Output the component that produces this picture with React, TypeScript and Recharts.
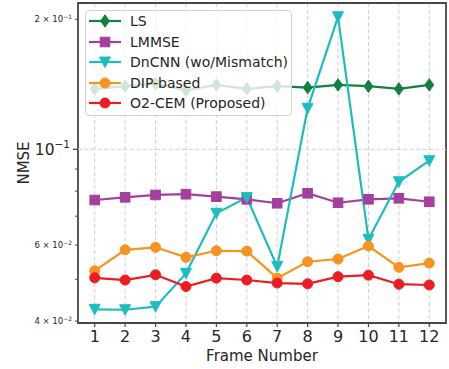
import React from 'react';
import { LineChart, Line, XAxis, YAxis, CartesianGrid, ReferenceLine, ReferenceArea, Legend } from 'recharts';

const frames = [1, 2, 3, 4, 5, 6, 7, 8, 9, 10, 11, 12];
const lsValues = [0.138, 0.140, 0.142, 0.137, 0.141, 0.138, 0.140, 0.139, 0.141, 0.140, 0.138, 0.141];
const lmmseValues = [0.0763, 0.0774, 0.0784, 0.0787, 0.0777, 0.0766, 0.0750, 0.0791, 0.0752, 0.0766, 0.0770, 0.0756];
const dncnnValues = [0.0426, 0.0425, 0.0432, 0.0516, 0.0711, 0.0773, 0.0535, 0.1244, 0.2027, 0.0619, 0.0841, 0.0941];
const dipValues = [0.0523, 0.0585, 0.0593, 0.0562, 0.0582, 0.0581, 0.0503, 0.0549, 0.0557, 0.0597, 0.0533, 0.0545];
const o2Values = [0.0504, 0.0498, 0.0512, 0.0481, 0.0503, 0.0498, 0.0490, 0.0488, 0.0507, 0.0511, 0.0487, 0.0485];

const yTicks = [0.04, 0.05, 0.06, 0.07, 0.08, 0.09, 0.1, 0.2];
const yTickLabels: Record<string, [string, string]> = {
  '0.04': ['4 × 10', '−2'],
  '0.06': ['6 × 10', '−2'],
  '0.1': ['10', '−1'],
  '0.2': ['2 × 10', '−1'],
};

const FONT = '"DejaVu Sans", sans-serif';
const TEXT = '#262626';
const SPINE = '#474747';

const series = [
  { key: 'ls', name: 'LS', color: '#12803f', shape: 'diamond', values: lsValues },
  { key: 'lmmse', name: 'LMMSE', color: '#a3409d', shape: 'square', values: lmmseValues },
  { key: 'dncnn', name: 'DnCNN (wo/Mismatch)', color: '#1dbdbf', shape: 'tri', values: dncnnValues },
  { key: 'dip', name: 'DIP-based', color: '#f7931e', shape: 'circle', values: dipValues },
  { key: 'o2', name: 'O2-CEM (Proposed)', color: '#ed1c24', shape: 'circle', values: o2Values },
];

const data = frames.map((f, i) => {
  const row: any = { frame: f };
  series.forEach((s) => { row[s.key] = s.values[i]; });
  return row;
});

function Marker({ cx, cy, shape, color }: any) {
  if (cx == null || cy == null) return null;
  if (shape === 'diamond') {
    return <polygon points={`${cx},${cy - 6.2} ${cx + 4.4},${cy} ${cx},${cy + 6.2} ${cx - 4.4},${cy}`} fill={color} stroke={color} strokeWidth={1} />;
  }
  if (shape === 'square') {
    return <rect x={cx - 4.8} y={cy - 4.8} width={9.6} height={9.6} fill={color} stroke={color} strokeWidth={1} />;
  }
  if (shape === 'tri') {
    return <polygon points={`${cx - 5.5},${cy - 5} ${cx + 5.5},${cy - 5} ${cx},${cy + 5.5}`} fill={color} stroke={color} strokeWidth={1} strokeLinejoin="miter" />;
  }
  return <circle cx={cx} cy={cy} r={5} fill={color} stroke={color} strokeWidth={1} />;
}

function YTick(props: any) {
  const { x, y, payload } = props;
  const v = payload.value;
  const major = Math.abs(v - 0.1) < 1e-9;
  const lab = yTickLabels[String(v)];
  return (
    <g>
      <line x1={x - (major ? 5 : 3)} x2={x} y1={y} y2={y} stroke={SPINE} strokeWidth={major ? 1.3 : 1} />
      {lab && major && (
        <text x={x - 8} y={y + 5.5} textAnchor="end" fontFamily={FONT} fill={TEXT} fontSize={15.5}>
          <tspan>{lab[0]}</tspan>
          <tspan dy={-6.5} fontSize={10.5}>{lab[1]}</tspan>
        </text>
      )}
      {lab && !major && (
        <text x={x - 6} y={y + 3} textAnchor="end" fontFamily={FONT} fill={TEXT} fontSize={8.5}>
          <tspan>{lab[0]}</tspan>
          <tspan dy={-3.5} fontSize={6}>{lab[1]}</tspan>
        </text>
      )}
    </g>
  );
}

function LegendContent() {
  return (
    <div style={{ width: 207, height: 106, boxSizing: 'border-box', background: 'rgba(255,255,255,0.8)', border: '1px solid #d3d3d3', borderRadius: 4, fontFamily: FONT }}>
      {series.map((s) => (
        <div key={s.key} style={{ position: 'relative', height: 20.5 }}>
          <svg width={34} height={20} style={{ position: 'absolute', left: 2, top: 0.25 }}>
            <line x1={1} x2={33} y1={10} y2={10} stroke={s.color} strokeWidth={2.2} />
            <Marker cx={17} cy={10} shape={s.shape} color={s.color} />
          </svg>
          <span style={{ position: 'absolute', left: 44, top: 0, lineHeight: '20.5px', fontSize: 14, color: TEXT, whiteSpace: 'nowrap' }}>{s.name}</span>
        </div>
      ))}
    </div>
  );
}

export default function App() {
  const xMin = 0.45, xMax = 12.55, yMin = 0.0396, yMax = 0.2182;
  return (
    <div style={{ position: 'absolute', left: 0, top: 0, background: '#fff' }}>
      <LineChart width={449} height={369} data={data} margin={{ top: 3, right: 3, left: 0, bottom: 0 }}>
        <CartesianGrid horizontal={false} vertical={true} stroke="#cfcfcf" strokeDasharray="4 2.5" strokeWidth={1} />
        <ReferenceLine y={0.1} stroke="#cfcfcf" strokeDasharray="4 2.5" strokeWidth={1} />
        <XAxis
          dataKey="frame"
          type="number"
          domain={[xMin, xMax]}
          allowDataOverflow
          ticks={frames}
          interval={0}
          height={46}
          axisLine={false}
          tickLine={{ stroke: SPINE, strokeWidth: 1.2 }}
          tickSize={4}
          tickMargin={4}
          tick={{ fontFamily: FONT, fontSize: 16, fill: TEXT }}
          label={(p: any) => {
            const vb = p.viewBox || { x: 78, y: 323, width: 368 };
            return (
              <text x={vb.x + vb.width / 2} y={vb.y + 38} textAnchor="middle" fontFamily={FONT} fontSize={15} fill={TEXT}>Frame Number</text>
            );
          }}
        />
        <YAxis
          type="number"
          scale="log"
          domain={[yMin, yMax]}
          allowDataOverflow
          ticks={yTicks}
          interval={0}
          width={78}
          axisLine={false}
          tickLine={false}
          tickSize={0}
          tickMargin={0}
          tick={<YTick />}
          label={(p: any) => {
            const vb = p.viewBox || { x: 0, y: 3, height: 320 };
            const cy = vb.y + vb.height / 2;
            return (
              <text x={29} y={cy} transform={`rotate(-90 29 ${cy})`} textAnchor="middle" fontFamily={FONT} fontSize={15} fill={TEXT}>NMSE</text>
            );
          }}
        />
        <ReferenceArea x1={xMin} x2={xMax} y1={yMin} y2={yMax} fill="none" fillOpacity={0} stroke={SPINE} strokeWidth={1.8} ifOverflow="visible" />
        {series.map((s) => (
          <Line
            key={s.key}
            dataKey={s.key}
            name={s.name}
            stroke={s.color}
            strokeWidth={2.2}
            isAnimationActive={false}
            dot={(p: any) => <Marker key={`${s.key}-${p.index}`} cx={p.cx} cy={p.cy} shape={s.shape} color={s.color} />}
            activeDot={false}
          />
        ))}
        <Legend layout="vertical" align="center" verticalAlign="middle" content={<LegendContent />} wrapperStyle={{ left: 85, top: 10, width: 207, height: 106 }} />
      </LineChart>
    </div>
  );
}
